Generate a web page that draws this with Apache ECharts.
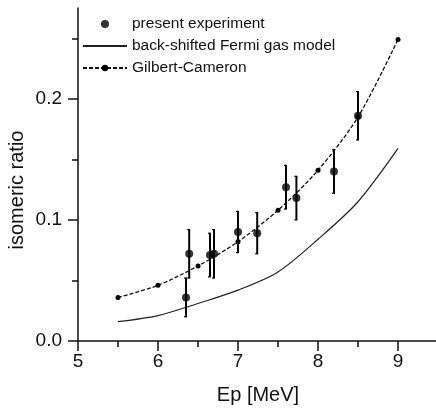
<!DOCTYPE html>
<html><head><meta charset="utf-8">
<script src="https://cdn.jsdelivr.net/npm/echarts@6/dist/echarts.min.js"></script>
<style>html,body{margin:0;padding:0;background:#fff}#c{width:436px;height:408px}</style>
</head><body><div id="c"></div>
<script>
const xMajorTicks = [5, 6, 7, 8, 9];
const xMinorTicks = [5.5, 6.5, 7.5, 8.5];
const yMajorTicks = [0, 0.1, 0.2];
const yMinorTicks = [0.05, 0.15, 0.25];

const expX   = [6.35, 6.39, 6.65, 6.70, 7.00, 7.24, 7.60, 7.73, 8.20, 8.50];
const expY   = [0.036, 0.072, 0.071, 0.072, 0.090, 0.089, 0.127, 0.118, 0.140, 0.186];
const expErr = [0.016, 0.020, 0.018, 0.020, 0.017, 0.017, 0.018, 0.018, 0.018, 0.020];

const modelX = [5.5, 6.0, 6.5, 7.0, 7.5, 8.0, 8.5, 9.0];
const bsfgY  = [0.016, 0.021, 0.031, 0.042, 0.057, 0.084, 0.115, 0.159];
const gcY    = [0.036, 0.046, 0.062, 0.082, 0.108, 0.141, 0.185, 0.249];

const chart = echarts.init(document.getElementById('c'), null, {renderer: 'canvas'});
const font = 'Liberation Sans, Arial, sans-serif';
const ink = '#111';

const expData = expX.map((x, i) => [x, expY[i], expErr[i]]);
const bsfgData = modelX.map((x, i) => [x, bsfgY[i]]);
const gcData = modelX.map((x, i) => [x, gcY[i]]);

const option = {
  backgroundColor: '#fff',
  animation: false,
  grid: {left: 78, top: 8, right: -2, bottom: 67, containLabel: false, outerBoundsMode: 'none'},
  xAxis: [{
    type: 'value', min: 5, max: 9.5, interval: 1,
    axisLine: {show: true, lineStyle: {color: ink, width: 1.5}},
    axisTick: {show: true, length: 10, customValues: xMajorTicks, lineStyle: {color: ink, width: 1.5}},
    axisLabel: {customValues: xMajorTicks, margin: 11, color: ink, fontSize: 19, fontFamily: font},
    splitLine: {show: false},
    name: 'Ep [MeV]', nameLocation: 'middle', nameGap: 44,
    nameTextStyle: {color: ink, fontSize: 20, fontFamily: font}
  }, {
    type: 'value', min: 5, max: 9.5, interval: 1, position: 'bottom',
    axisLine: {show: false},
    axisTick: {show: true, length: 6, customValues: xMinorTicks, lineStyle: {color: ink, width: 1.5}},
    axisLabel: {show: false},
    splitLine: {show: false}
  }],
  yAxis: [{
    type: 'value', min: 0, max: 0.275, interval: 0.1,
    axisLine: {show: true, lineStyle: {color: ink, width: 1.5}},
    axisTick: {show: true, length: 10, customValues: yMajorTicks, lineStyle: {color: ink, width: 1.5}},
    axisLabel: {customValues: yMajorTicks, margin: 16, color: ink, fontSize: 19, fontFamily: font,
      formatter: v => v.toFixed(1)},
    splitLine: {show: false}
  }, {
    type: 'value', min: 0, max: 0.275, interval: 0.1, position: 'left',
    axisLine: {show: false},
    axisTick: {show: true, length: 6, customValues: yMinorTicks, lineStyle: {color: ink, width: 1.5}},
    axisLabel: {show: false},
    splitLine: {show: false}
  }],
  graphic: [{
    type: 'text', x: 17, y: 190, rotation: Math.PI / 2,
    style: {text: 'isomeric ratio', fill: ink, fontSize: 20, fontFamily: font,
      align: 'center', verticalAlign: 'middle'}
  }],
  legend: {
    orient: 'vertical', left: 77, top: 11,
    itemWidth: 44, itemHeight: 8, itemGap: 6,
    textStyle: {color: ink, fontSize: 15.5, fontFamily: font},
    data: [
      {name: 'present experiment', icon: 'circle'},
      {name: 'back-shifted Fermi gas model', itemStyle: {opacity: 0, color: 'transparent', borderWidth: 0}},
      {name: 'Gilbert-Cameron'}
    ]
  },
  series: [{
    type: 'custom', name: 'errors', data: expData, z: 3,
    renderItem: function (params, api) {
      const x = api.value(0), y = api.value(1), e = api.value(2);
      const t = api.coord([x, y + e]);
      const b = api.coord([x, y - e]);
      const c = 2;
      const st = {stroke: '#000', lineWidth: 2};
      return {type: 'group', children: [
        {type: 'line', shape: {x1: t[0], y1: t[1], x2: b[0], y2: b[1]}, style: st},
        {type: 'line', shape: {x1: t[0] - c, y1: t[1], x2: t[0] + 1, y2: t[1]}, style: {stroke: '#000', lineWidth: 1.2}},
        {type: 'line', shape: {x1: b[0] - c, y1: b[1], x2: b[0] + 1, y2: b[1]}, style: {stroke: '#000', lineWidth: 1.2}}
      ]};
    }
  }, {
    type: 'line', name: 'back-shifted Fermi gas model', data: bsfgData,
    smooth: 0.3, showSymbol: false, symbol: 'none',
    lineStyle: {color: '#222', width: 1.2}, itemStyle: {color: '#222'}, z: 2
  }, {
    type: 'line', name: 'Gilbert-Cameron', data: gcData,
    smooth: 0.3, symbol: 'circle', symbolSize: 5, showSymbol: true,
    lineStyle: {color: '#111', width: 1.3, type: [4, 2]}, itemStyle: {color: '#000'}, z: 2
  }, {
    type: 'scatter', name: 'present experiment', data: expData.map(d => [d[0], d[1]]),
    symbol: 'circle', symbolSize: 8, itemStyle: {color: '#000'}, z: 4
  }]
};
chart.setOption(option);
</script></body></html>
